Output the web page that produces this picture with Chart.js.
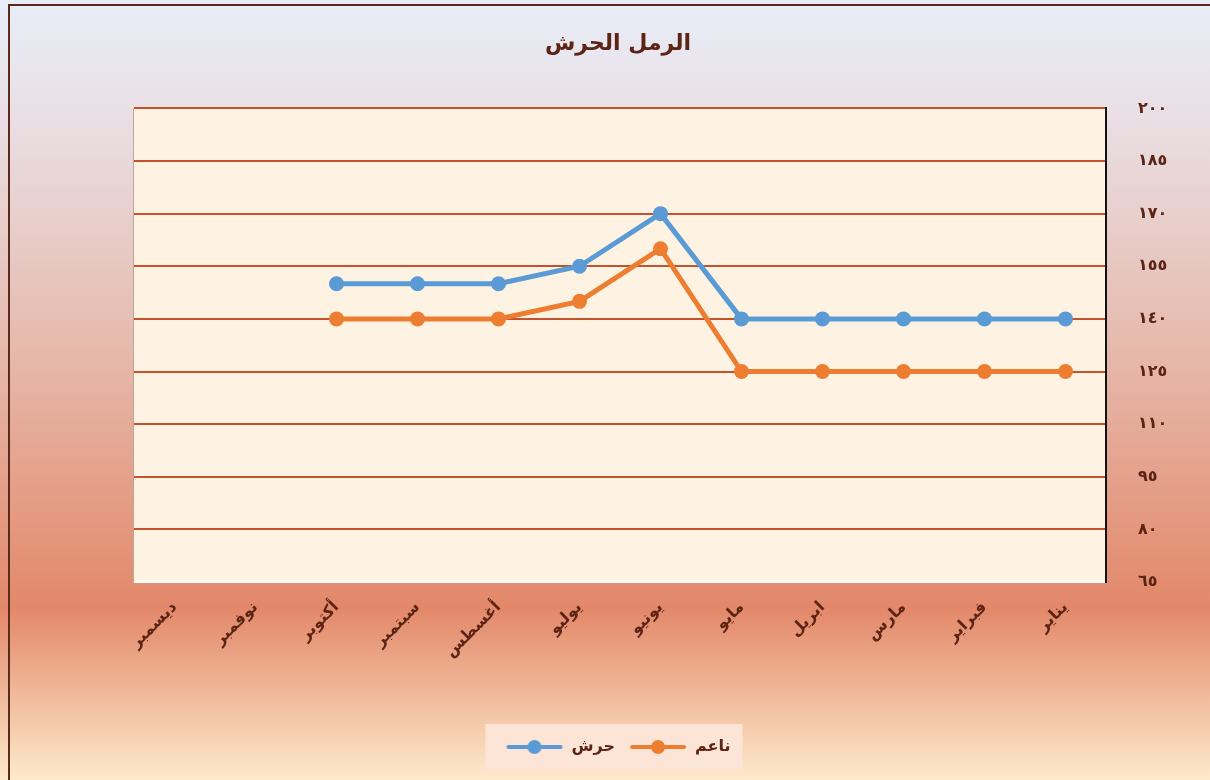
<!DOCTYPE html>
<html>
<head>
<meta charset="utf-8">
<script src="https://cdn.jsdelivr.net/npm/chart.js@4"></script>
<style>
  html, body { margin: 0; padding: 0; }
  #wrap { width: 1210px; height: 780px; }
</style>
</head>
<body>
<div id="wrap"><canvas id="myChart" width="1210" height="780"></canvas></div>
<script>
// months, January first; x axis is drawn reversed (right to left)
const months = ['يناير', 'فبراير', 'مارس', 'ابريل', 'مايو', 'يونيو', 'يوليو', 'أغسطس', 'سبتمبر', 'أكتوبر', 'نوفمبر', 'ديسمبر'];
const harshValues = [140, 140, 140, 140, 140, 170, 155, 150, 150, 150, null, null];
const naemValues = [125, 125, 125, 125, 125, 160, 145, 140, 140, 140, null, null];
const yTickLabels = ['٦٥', '٨٠', '٩٥', '١١٠', '١٢٥', '١٤٠', '١٥٥', '١٧٠', '١٨٥', '٢٠٠'];
const chartTitle = 'الرمل الحرش';

const brown = '#5B2414';
const fontFamily = "'DejaVu Sans', sans-serif";

// legend symbol: line with a dot in the middle
function lineDot(color) {
    const c = document.createElement('canvas');
    c.width = 58; c.height = 16;
    const g = c.getContext('2d');
    g.strokeStyle = color;
    g.lineWidth = 4;
    g.lineCap = 'round';
    g.beginPath(); g.moveTo(3, 8); g.lineTo(55, 8); g.stroke();
    g.fillStyle = color;
    g.beginPath(); g.arc(29, 8, 7, 0, Math.PI * 2); g.fill();
    return c;
}

const bgPlugin = {
    id: 'bgPlugin',
    beforeDraw(chart) {
        const {ctx, width, height, chartArea} = chart;
        ctx.save();
        const grad = ctx.createLinearGradient(0, 0, 0, height);
        grad.addColorStop(0, '#E8EDF8');
        grad.addColorStop(0.15, '#E9DFE4');
        grad.addColorStop(0.45, '#E6B9AC');
        grad.addColorStop(0.78, '#E3886A');
        grad.addColorStop(1, '#FDEACB');
        ctx.fillStyle = grad;
        ctx.fillRect(0, 0, width, height);
        // outer frame (left + top)
        ctx.strokeStyle = '#5A2A1A';
        ctx.lineWidth = 2;
        ctx.beginPath();
        ctx.moveTo(9, height);
        ctx.lineTo(9, 5);
        ctx.lineTo(width, 5);
        ctx.stroke();
        // plot area fill
        ctx.fillStyle = '#FEF2E2';
        ctx.fillRect(chartArea.left, chartArea.top, chartArea.right - chartArea.left, chartArea.bottom - chartArea.top);
        ctx.strokeStyle = '#B9A79A';
        ctx.lineWidth = 1;
        ctx.beginPath();
        ctx.moveTo(chartArea.left - 0.5, chartArea.top);
        ctx.lineTo(chartArea.left - 0.5, chartArea.bottom);
        ctx.stroke();
        // legend box
        const boxes = chart.legend && chart.legend.legendHitBoxes;
        if (boxes && boxes.length) {
            const l = Math.min(...boxes.map(b => b.left)) - 20;
            const r = Math.max(...boxes.map(b => b.left + b.width)) + 12;
            const t = boxes[0].top + boxes[0].height / 2 - 23;
            ctx.fillStyle = '#FCE5D6';
            ctx.fillRect(l, t, r - l, 46);
        }
        ctx.restore();
    }
};

const ctx = document.getElementById('myChart').getContext('2d');
const myChart = new Chart(ctx, {
    type: 'line',
    data: {
        labels: months,
        datasets: [{
            label: 'حرش',
            data: harshValues,
            yAxisID: 'y',
            borderColor: '#5B9BD5',
            backgroundColor: '#5B9BD5',
            borderWidth: 5,
            pointRadius: 7.5,
            pointHoverRadius: 7.5,
            pointBorderWidth: 0,
            tension: 0
        }, {
            label: 'ناعم',
            data: naemValues,
            yAxisID: 'y',
            borderColor: '#ED7D31',
            backgroundColor: '#ED7D31',
            borderWidth: 5,
            pointRadius: 7.5,
            pointHoverRadius: 7.5,
            pointBorderWidth: 0,
            tension: 0
        }]
    },
    options: {
        responsive: false,
        animation: false,
        devicePixelRatio: 1,
        layout: { padding: { left: 26, right: 0, top: 0, bottom: 15 } },
        plugins: {
            title: {
                display: true,
                text: chartTitle,
                color: brown,
                font: { family: fontFamily, size: 22, weight: 'bold' },
                padding: { top: 31, bottom: 51 }
            },
            legend: {
                position: 'bottom',
                labels: {
                    color: brown,
                    font: { family: fontFamily, size: 16, weight: 'bold' },
                    usePointStyle: true,
                    pointStyleWidth: 58,
                    padding: 14,
                    generateLabels(chart) {
                        return chart.data.datasets.map((ds, i) => ({
                            text: ds.label,
                            pointStyle: lineDot(ds.borderColor),
                            fontColor: brown,
                            lineWidth: 0,
                            strokeStyle: 'transparent',
                            fillStyle: ds.borderColor,
                            datasetIndex: i
                        }));
                    }
                }
            },
            tooltip: { enabled: false }
        },
        scales: {
            x: {
                reverse: true,
                offset: true,
                grid: { display: false, drawTicks: false },
                border: { display: false },
                ticks: {
                    color: brown,
                    font: { family: fontFamily, size: 16, weight: 'bold' },
                    maxRotation: 45,
                    minRotation: 45,
                    padding: 16
                },
                afterFit(scale) { scale.height = 143; }
            },
            // empty left axis that only reserves the left margin
            yLeft: {
                type: 'linear',
                position: 'left',
                display: true,
                min: 0,
                max: 1,
                grid: { display: false, drawTicks: false },
                border: { display: false },
                ticks: { display: false },
                afterFit(scale) { scale.width = 108; }
            },
            y: {
                position: 'right',
                min: 65,
                max: 200,
                grid: {
                    color: ctx => ctx.tick && ctx.tick.value === 65 ? '#FFFFFF' : '#C4522C',
                    lineWidth: 2,
                    drawTicks: false
                },
                border: { display: true, color: '#111111', width: 2 },
                ticks: {
                    stepSize: 15,
                    color: brown,
                    padding: 32,
                    font: { family: fontFamily, size: 16, weight: 'bold' },
                    callback: (value, index) => yTickLabels[index]
                },
                afterFit(scale) { scale.width = 104; }
            }
        }
    },
    plugins: [bgPlugin]
});
</script>
</body>
</html>
